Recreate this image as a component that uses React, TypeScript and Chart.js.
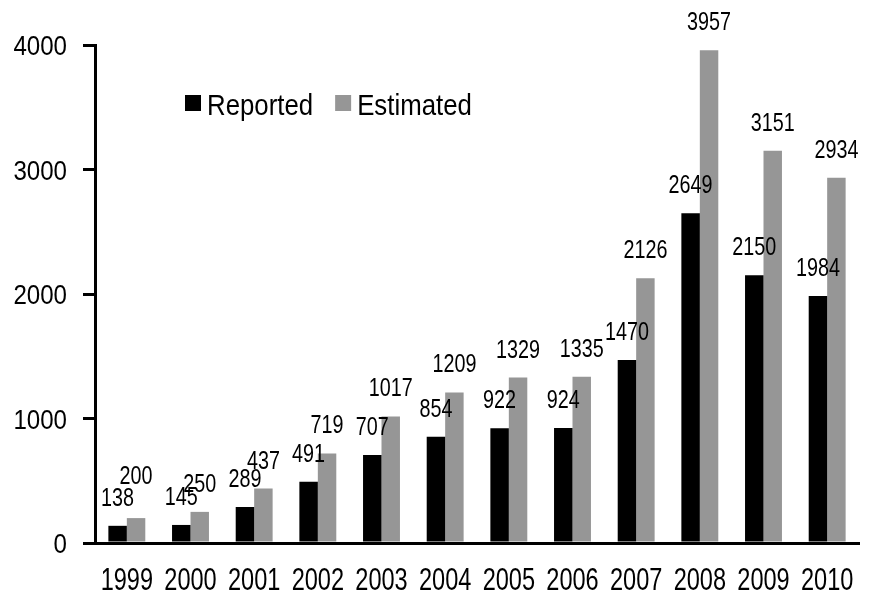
import React, { useEffect, useRef } from "react";
import { Chart, registerables } from "chart.js";

Chart.register(...registerables);

const years = ["1999", "2000", "2001", "2002", "2003", "2004", "2005", "2006", "2007", "2008", "2009", "2010"];
const reported = [138, 145, 289, 491, 707, 854, 922, 924, 1470, 2649, 2150, 1984];
const estimated = [200, 250, 437, 719, 1017, 1209, 1329, 1335, 2126, 3957, 3151, 2934];
const yTicks = [0, 1000, 2000, 3000, 4000];

const FONT = "'Liberation Sans', Arial, sans-serif";

function drawText(ctx: CanvasRenderingContext2D, text: string, x: number, y: number, size: number, k: number, align: CanvasTextAlign) {
  ctx.save();
  ctx.translate(x, y);
  ctx.scale(k, 1);
  ctx.font = `${size}px ${FONT}`;
  ctx.fillStyle = "#000";
  ctx.textAlign = align;
  ctx.textBaseline = "alphabetic";
  ctx.fillText(text, 0, 0);
  ctx.restore();
}

const textPlugin = {
  id: "customText",
  afterDraw(chart: any) {
    const ctx = chart.ctx as CanvasRenderingContext2D;
    const xs = chart.scales.x;
    const ys = chart.scales.y;
    // y tick labels
    yTicks.forEach((v) => {
      const py = ys.getPixelForValue(v);
      drawText(ctx, String(v), ys.right - 12 - 16, py + 10, 28, 0.86, "right");
    });
    // x tick labels
    (chart.data.labels as string[]).forEach((lab, i) => {
      const px = xs.getPixelForValue(i);
      drawText(ctx, lab, px, 590, 31, 0.76, "center");
    });
    // data labels
    chart.data.datasets.forEach((ds: any, di: number) => {
      const meta = chart.getDatasetMeta(di);
      meta.data.forEach((el: any, i: number) => {
        const extra = di === 1 && i === 0 ? 14 : 0;
        drawText(ctx, String(ds.data[i]), el.x, el.y - 20 - extra, 26, 0.76, "center");
      });
    });
    // legend
    let x = 185;
    const top = 95;
    chart.data.datasets.forEach((ds: any) => {
      ctx.fillStyle = ds.backgroundColor;
      ctx.fillRect(x, top, 16, 16);
      x += 16 + 6;
      drawText(ctx, ds.label, x, 115, 30, 0.86, "left");
      ctx.save();
      ctx.font = `30px ${FONT}`;
      x += ctx.measureText(ds.label).width * 0.86 + 22;
      ctx.restore();
    });
  },
};

export default function App() {
  const ref = useRef<HTMLCanvasElement>(null);
  useEffect(() => {
    if (!ref.current) return;
    const chart = new Chart(ref.current, {
      type: "bar",
      data: {
        labels: years,
        datasets: [
          { label: "Reported", data: reported, backgroundColor: "#000000", borderWidth: 0 },
          { label: "Estimated", data: estimated, backgroundColor: "#969696", borderWidth: 0 },
        ],
      },
      options: {
        responsive: false,
        animation: false,
        layout: { padding: { top: 45, right: 10, left: 0, bottom: 0 } },
        datasets: { bar: { categoryPercentage: 0.58, barPercentage: 1 } } as any,
        plugins: { legend: { display: false }, tooltip: { enabled: false } },
        scales: {
          x: {
            grid: { display: false, drawTicks: false },
            border: { display: true, color: "#000", width: 3 },
            ticks: { display: false },
            afterFit: (s: any) => { s.height = 51; },
          },
          y: {
            min: 0,
            max: 4000,
            afterBuildTicks: (s: any) => { s.ticks = yTicks.map((v) => ({ value: v })); },
            grid: { drawOnChartArea: false, drawTicks: true, tickLength: 12, color: "#000", lineWidth: 3 },
            border: { display: true, color: "#000", width: 3 },
            ticks: { display: false },
            afterFit: (s: any) => { s.width = 95; },
          },
        },
      },
      plugins: [textPlugin],
    });
    return () => chart.destroy();
  }, []);
  return (
    <div style={{ position: "fixed", left: 0, top: 0, width: 869, height: 594, background: "#fff" }}>
      <canvas ref={ref} width={869} height={594} style={{ width: 869, height: 594 }} />
    </div>
  );
}
